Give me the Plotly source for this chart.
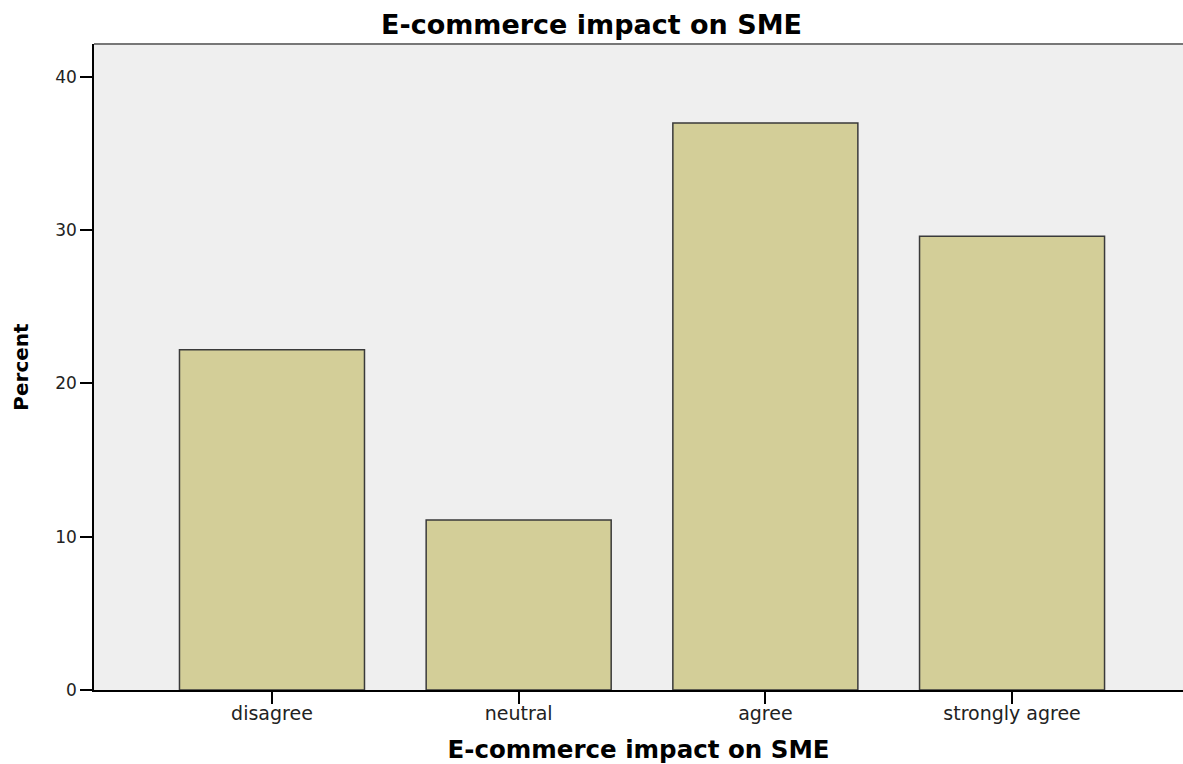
import plotly.graph_objects as go

categories = ["disagree", "neutral", "agree", "strongly agree"]
percent = [22.2, 11.1, 37.0, 29.6]

FONT = "DejaVu Sans, Liberation Sans, Arial, sans-serif"
W, H = 1183, 764

fig = go.Figure()
fig.add_trace(go.Bar(
    x=list(range(len(categories))), y=percent,
    width=0.75,
    marker=dict(color="#D3CE98", line=dict(color="#3a3a3a", width=1.5)),
))

fig.update_layout(
    width=W, height=H,
    margin=dict(l=94, r=0, t=44, b=74),
    paper_bgcolor="white", plot_bgcolor="#EFEFEF",
    showlegend=False,
    font=dict(family=FONT, color="#222"),
    title=dict(text="<b>E-commerce impact on SME</b>", x=0.5, xanchor="center",
               xref="container", y=1 - 25 / H, yanchor="middle",
               font=dict(size=27, color="black")),
)
fig.update_xaxes(
    range=[-0.7215, 3.693], tickvals=list(range(len(categories))), ticktext=categories,
    showgrid=False, zeroline=False, showline=True, linecolor="black", linewidth=1.5,
    ticks="outside", ticklen=12, tickcolor="black", tickwidth=1.5,
    tickfont=dict(size=19, color="#222"), ticklabelstandoff=-7,
    title=dict(text="<b>E-commerce impact on SME</b>", font=dict(size=24.5, color="black"), standoff=20),
)
fig.update_yaxes(
    range=[0, 42.15], tickvals=[0, 10, 20, 30, 40],
    showgrid=False, zeroline=False, showline=True, linecolor="black", linewidth=1.5,
    ticks="outside", ticklen=12, tickcolor="black", tickwidth=1.5,
    tickfont=dict(size=17, color="#222"),
    title=dict(text="<b>Percent</b>", font=dict(size=20, color="black"), standoff=21),
)
fig.add_shape(type="line", xref="paper", yref="paper", x0=0, x1=1, y0=1, y1=1,
              line=dict(color="#777", width=2))
fig.write_html("out.html", config={"displayModeBar": False},
               post_script="document.body.style.margin='0';document.body.style.overflow='hidden';")
